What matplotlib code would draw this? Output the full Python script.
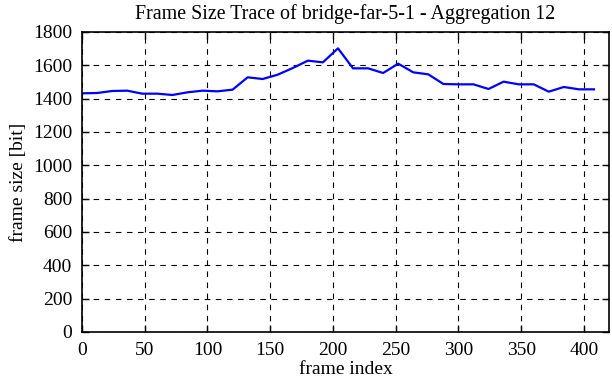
import matplotlib
matplotlib.use("Agg")
import matplotlib.pyplot as plt

frames = list(range(0, 409, 12))
sizes = [1432, 1434, 1446, 1448, 1430, 1430, 1422, 1438, 1448, 1444,
         1454, 1528, 1518, 1544, 1584, 1628, 1618, 1702, 1582, 1582,
         1554, 1610, 1558, 1546, 1488, 1486, 1486, 1458, 1502, 1486,
         1486, 1442, 1470, 1456, 1456]
xticks = list(range(0, 401, 50))
yticks = list(range(0, 1801, 200))

plt.rcParams['font.family'] = ['Liberation Serif', 'DejaVu Serif']
plt.rcParams['font.size'] = 14

fig = plt.figure(figsize=(6.12, 3.82), dpi=100)
ax = fig.add_axes([82/612, 50/382, (609-82)/612, 300/382])
ax.plot(frames, sizes, color='#0000ff', lw=1.6)
ax.set_xlim(0, 420)
ax.set_ylim(0, 1800)
ax.set_xticks(xticks)
ax.set_yticks(yticks)
ax.grid(True, color='black', linestyle=(0, (5, 5)), linewidth=0.8)
ax.tick_params(direction='in', top=True, right=True, length=5, width=1, pad=7)
for s in ax.spines.values():
    s.set_linewidth(1.2)
ax.set_xlabel('frame index', labelpad=2)
ax.set_ylabel('frame size [bit]', labelpad=4)
ax.set_title('Frame Size Trace of bridge-far-5-1 - Aggregation 12', fontsize=14.4, pad=9)
fig.savefig('out.png', dpi=100)
